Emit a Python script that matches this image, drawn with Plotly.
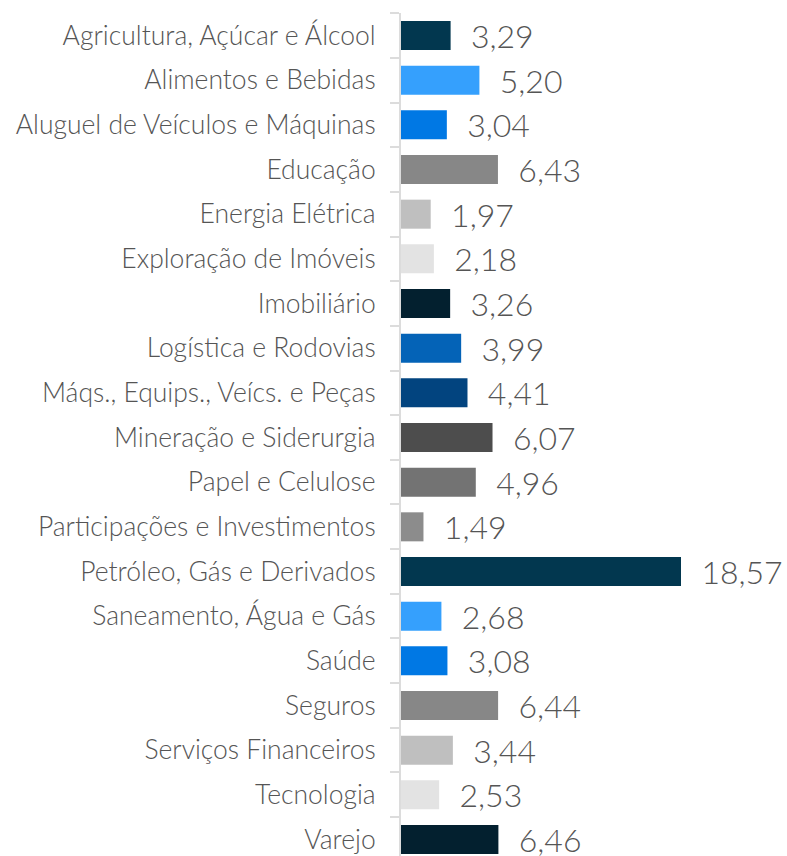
import plotly.graph_objects as go

setores = [
    "Agricultura, Açúcar e Álcool",
    "Alimentos e Bebidas",
    "Aluguel de Veículos e Máquinas",
    "Educação",
    "Energia Elétrica",
    "Exploração de Imóveis",
    "Imobiliário",
    "Logística e Rodovias",
    "Máqs., Equips., Veícs. e Peças",
    "Mineração e Siderurgia",
    "Papel e Celulose",
    "Participações e Investimentos",
    "Petróleo, Gás e Derivados",
    "Saneamento, Água e Gás",
    "Saúde",
    "Seguros",
    "Serviços Financeiros",
    "Tecnologia",
    "Varejo",
]
valores = [3.29, 5.20, 3.04, 6.43, 1.97, 2.18, 3.26, 3.99, 4.41, 6.07,
           4.96, 1.49, 18.57, 2.68, 3.08, 6.44, 3.44, 2.53, 6.46]

paleta = ["#02374f", "#35a0fd", "#0078e4", "#878787", "#bfbfbf", "#e3e3e3",
          "#03202f", "#0463b7", "#02447f", "#4d4d4d", "#737373", "#8c8c8c"]
cores = [paleta[i % len(paleta)] for i in range(len(setores))]

rotulos = ["  " + f"{v:.2f}".replace(".", ",") for v in valores]

fonte = "Lato Light, Lato"

fig = go.Figure(go.Bar(
    x=valores,
    y=setores,
    orientation="h",
    marker=dict(color=cores, line=dict(width=0)),
    text=rotulos,
    textposition="outside",
    constraintext="none",
    cliponaxis=False,
    textfont=dict(family=fonte, size=32, color="#555555", weight=300),
    width=0.65,
))

fig.update_layout(
    width=787, height=856,
    margin=dict(l=401, r=0, t=13, b=0),
    paper_bgcolor="white", plot_bgcolor="white",
    showlegend=False,
    font=dict(family=fonte, color="#555555"),
)
fig.update_xaxes(range=[0, 25.6], visible=False, showgrid=False, zeroline=False)
fig.update_yaxes(
    range=[18.37, -0.504],
    showgrid=False, zeroline=False,
    showline=True, linecolor="#dcdcdc", linewidth=2,
    ticks="outside", tickson="boundaries", ticklen=9, tickcolor="#dcdcdc", tickwidth=2,
    tickfont=dict(family=fonte, size=26.5, color="#555555", weight=300),
    ticklabelstandoff=18,
)

fig.write_html("out.html")
